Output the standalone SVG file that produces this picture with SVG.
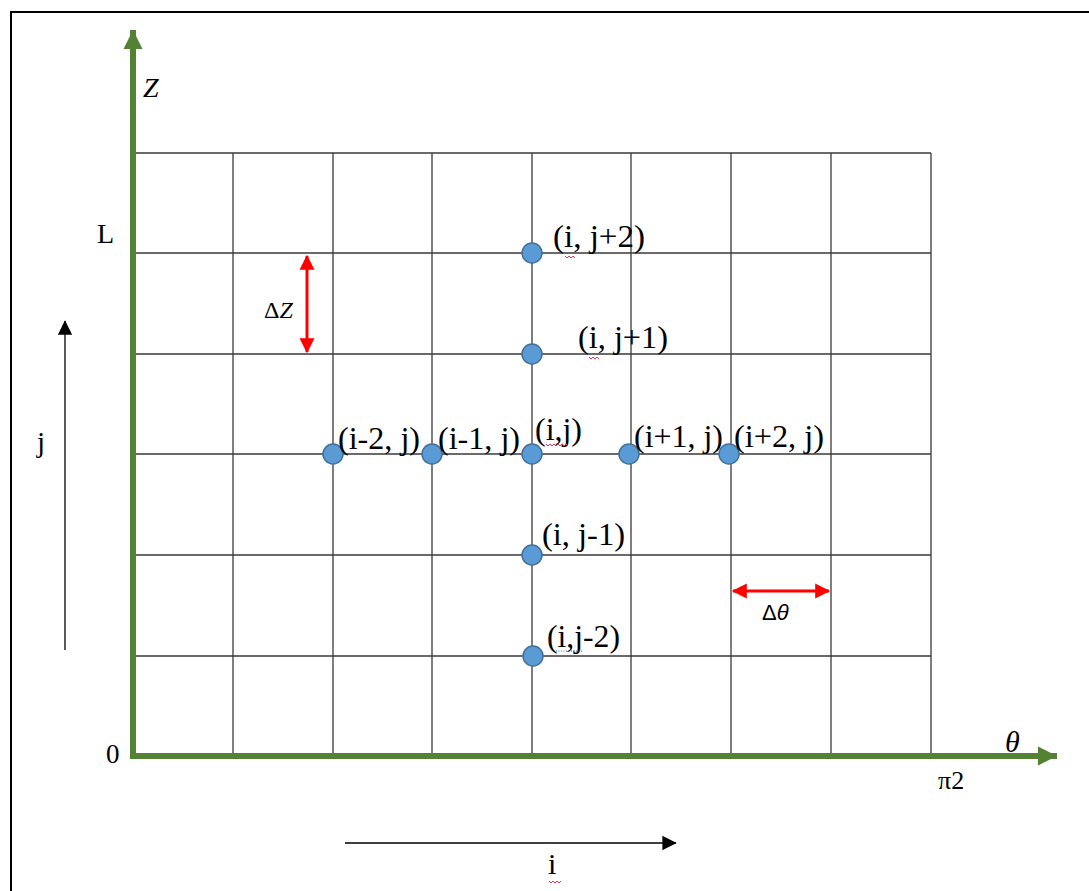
<svg xmlns="http://www.w3.org/2000/svg" width="1089" height="891" viewBox="0 0 1089 891">
<style>
.grid{stroke:#3a3a3a;stroke-width:1.3;fill:none}
.axis{stroke:#548235;stroke-width:6;fill:none}
.red{stroke:#ff0000;stroke-width:3;fill:none}
.blk{stroke:#000;stroke-width:1.3;fill:none}
.dot{fill:#5b9bd5;stroke:#41719c;stroke-width:1.5}
.lbl{font-family:"Liberation Serif","Times New Roman",serif;font-size:31px;fill:#000}
.ser{font-family:"Liberation Serif","Times New Roman",serif;fill:#000}
.sq{stroke:#e8384f;stroke-width:1;fill:none}
</style>
<defs>
<marker id="ga" markerWidth="4" markerHeight="4" refX="3.2" refY="2" orient="auto" markerUnits="strokeWidth"><path d="M0,0.4 L3.2,2 L0,3.6 Z" fill="#548235"/></marker>
<marker id="ra" markerWidth="6" markerHeight="6" refX="4.6" refY="3" orient="auto-start-reverse" markerUnits="strokeWidth"><path d="M0,0.5 L5,3 L0,5.5 Z" fill="#ff0000"/></marker>
<marker id="ka" markerWidth="12" markerHeight="12" refX="10.5" refY="6" orient="auto" markerUnits="strokeWidth"><path d="M0,0.5 L11,6 L0,11.5 Z" fill="#000"/></marker>
</defs>
<rect width="1089" height="891" fill="#fff"/>
<path d="M11,905 V12 H1095" stroke="#000" stroke-width="2" fill="none"/>
<g id="grid" class="grid">
<path d="M133,153 H931 M133,253 H931 M133,354 H931 M133,454 H931 M133,555 H931 M133,656 H931"/>
<path d="M233,153 V756 M333,153 V756 M432,153 V756 M532,153 V756 M631,153 V756 M731,153 V756 M831,153 V756 M931,153 V756"/>
</g>
<g id="connectors">
<path class="axis" d="M133,759 V30" marker-end="url(#ga)"/>
<path class="axis" d="M130,756 H1057" marker-end="url(#ga)"/>
<path class="red" d="M307,256 V352" marker-start="url(#ra)" marker-end="url(#ra)"/>
<path class="red" d="M733,591 H829" marker-start="url(#ra)" marker-end="url(#ra)"/>
<path class="blk" d="M65,650 V321" marker-end="url(#ka)"/>
<path class="blk" d="M345,843 H676" marker-end="url(#ka)"/>
</g>
<g id="n-i-j2"><circle class="dot" cx="532" cy="253" r="10"/><text class="lbl" x="553" y="247" textLength="92" lengthAdjust="spacingAndGlyphs">(i, j+2)</text><path class="sq" d="M565,256 l2,2 l2,-2 l2,2 l2,-2 l2,2"/></g>
<g id="n-i-j1"><circle class="dot" cx="532" cy="354" r="10"/><text class="lbl" x="578" y="348" textLength="90" lengthAdjust="spacingAndGlyphs">(i, j+1)</text><path class="sq" d="M589,357 l2,2 l2,-2 l2,2 l2,-2 l2,2"/></g>
<g id="n-i2-j"><circle class="dot" cx="333" cy="454" r="10"/><text class="lbl" x="338" y="449" textLength="82" lengthAdjust="spacingAndGlyphs">(i-2, j)</text></g>
<g id="n-i1-j"><circle class="dot" cx="432" cy="454" r="10"/><text class="lbl" x="438" y="449" textLength="82" lengthAdjust="spacingAndGlyphs">(i-1, j)</text></g>
<g id="n-i-j"><circle class="dot" cx="532" cy="454" r="10"/><text class="lbl" x="535" y="440" textLength="47" lengthAdjust="spacingAndGlyphs">(i,j)</text><path class="sq" d="M546,444 l2,2 l2,-2 l2,2 l2,-2 l2,2 l2,-2 l2,2 l2,-2 l2,2 l2,-2 l2,2"/></g>
<g id="n-ip1-j"><circle class="dot" cx="629" cy="454" r="10"/><text class="lbl" x="634" y="447" textLength="89" lengthAdjust="spacingAndGlyphs">(i+1, j)</text></g>
<g id="n-ip2-j"><circle class="dot" cx="729" cy="454" r="10"/><text class="lbl" x="734" y="447" textLength="90" lengthAdjust="spacingAndGlyphs">(i+2, j)</text></g>
<g id="n-i-jm1"><circle class="dot" cx="532" cy="555" r="10"/><text class="lbl" x="542" y="545" textLength="83" lengthAdjust="spacingAndGlyphs">(i, j-1)</text></g>
<g id="n-i-jm2"><circle class="dot" cx="533" cy="656" r="10"/><text class="lbl" x="547" y="647" textLength="73" lengthAdjust="spacingAndGlyphs">(i,j-2)</text><path d="M556,651 H582" stroke="#5060c0" stroke-width="1" stroke-dasharray="1,1.5"/></g>
<g id="labels">
<text class="ser" x="143" y="97" font-size="28" font-style="italic">Z</text>
<text class="ser" x="97" y="243" font-size="28">L</text>
<text class="ser" x="264" y="318" font-size="24">Δ<tspan font-style="italic">Z</tspan></text>
<text x="762" y="620" font-family="Liberation Sans, Arial, sans-serif" font-size="22" fill="#000">Δ<tspan font-style="italic">θ</tspan></text>
<text class="ser" x="1005" y="752" font-size="30" font-style="italic">θ</text>
<text class="ser" x="938" y="789" font-size="26">π2</text>
<text class="ser" x="106" y="763" font-size="27">0</text>
<text class="ser" x="37" y="452" font-size="29">j</text>
<text class="ser" x="548" y="874" font-size="30">i</text>
<path class="sq" d="M549,881 l2,2 l2,-2 l2,2 l2,-2 l2,2 l2,-2"/>
</g>
</svg>
